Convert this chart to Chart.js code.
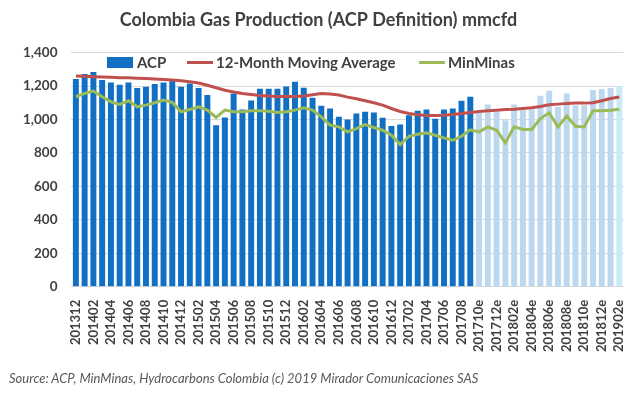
<!DOCTYPE html>
<html>
<head>
<meta charset="utf-8">
<script src="https://cdn.jsdelivr.net/npm/chart.js@4"></script>
<style>
  body { margin: 0; background: #fff; }
  #wrap { position: relative; width: 640px; height: 396px; font-family: Lato, "Noto Sans", sans-serif; }
  .lg { position: absolute; top: 53px; font-size: 15px; font-weight: bold; color: #404040; white-space: nowrap; }
  .sw { position: absolute; }
  #src { position: absolute; left: 9px; top: 370px; font-size: 13px; font-style: italic; color: #595959; }
</style>
</head>
<body>
<div id="wrap">
  <canvas id="myChart" width="640" height="396"></canvas>
  <div class="sw" style="left:107px;top:57px;width:26px;height:11px;background:#1170c4"></div>
  <div class="lg" style="left:137px">ACP</div>
  <div class="sw" style="left:187px;top:61px;width:26px;height:3px;background:#c0504d"></div>
  <div class="lg" style="left:216px">12-Month Moving Average</div>
  <div class="sw" style="left:419px;top:61px;width:26px;height:3px;background:#9bbb59"></div>
  <div class="lg" style="left:448px">MinMinas</div>
  <div id="src">Source: ACP, MinMinas, Hydrocarbons Colombia (c) 2019 Mirador Comunicaciones SAS</div>
</div>
<script>
// Meses (las "e" son estimados)
const meses = [
  '201312','201401','201402','201403','201404','201405','201406','201407','201408','201409','201410','201411',
  '201412','201501','201502','201503','201504','201505','201506','201507','201508','201509','201510','201511',
  '201512','201601','201602','201603','201604','201605','201606','201607','201608','201609','201610','201611',
  '201612','201701','201702','201703','201704','201705','201706','201707','201708','201709',
  '201710e','201711e','201712e','201801e','201802e','201803e','201804e','201805e','201806e','201807e',
  '201808e','201809e','201810e','201811e','201812e','201901e','201902e'
];
const acp = [
  1242, 1272, 1284, 1236, 1222, 1208, 1222, 1188, 1196, 1212, 1222, 1242,
  1196, 1216, 1188, 1146, 966, 1012, 1156, 1060, 1114, 1184, 1184, 1184,
  1198, 1226, 1190, 1130, 1082, 1066, 1016, 1000, 1036, 1046, 1042, 1010,
  962, 970, 1026, 1052, 1060, 1004, 1060, 1066, 1112, 1136,
  1040, 1090, 1046, 996, 1090, 1056, 1060, 1142, 1172, 1076,
  1156, 1086, 1086, 1176, 1182, 1188, 1200
];
const promedio12 = [
  1260, 1258, 1256, 1254, 1252, 1250, 1249, 1247, 1245, 1242, 1239, 1236,
  1232, 1226, 1218, 1205, 1190, 1175, 1165, 1156, 1150, 1144, 1140, 1138,
  1137, 1137, 1140, 1148, 1156, 1152, 1146, 1134, 1124, 1112, 1100, 1086,
  1066, 1048, 1036, 1028, 1024, 1024, 1026, 1030, 1036, 1042,
  1048, 1052, 1056, 1060, 1062, 1066, 1070, 1078, 1088, 1092,
  1096, 1098, 1098, 1100, 1112, 1126, 1134
];
const minminas = [
  1136, 1156, 1170, 1136, 1106, 1090, 1112, 1076, 1086, 1100, 1116, 1102,
  1046, 1060, 1076, 1056, 1012, 1056, 1046, 1046, 1052, 1052, 1050, 1042,
  1046, 1056, 1070, 1056, 1016, 966, 956, 926, 946, 970, 952, 936,
  906, 850, 900, 912, 920, 906, 890, 876, 900, 938,
  926, 956, 936, 860, 956, 940, 940, 1006, 1040, 956,
  1020, 960, 956, 1052, 1052, 1056, 1062
];
const ticksY = [0, 200, 400, 600, 800, 1000, 1200, 1400];

const azul = '#1170c4';
const azulClaro = '#bdd7ee';
const ultimo = '#c9ebf8';
const coloresBarras = meses.map((m, i) =>
  i === meses.length - 1 ? ultimo : (m.endsWith('e') ? azulClaro : azul));

const fuente = 'Lato, "Noto Sans", sans-serif';

new Chart(document.getElementById('myChart'), {
  data: {
    labels: meses,
    datasets: [
      {
        type: 'line',
        label: '12-Month Moving Average',
        data: promedio12,
        borderColor: '#c0504d',
        borderWidth: 3,
        pointRadius: 0,
        tension: 0,
        order: 1
      },
      {
        type: 'line',
        label: 'MinMinas',
        data: minminas,
        borderColor: '#9bbb59',
        borderWidth: 3,
        pointRadius: 0,
        tension: 0,
        order: 0
      },
      {
        type: 'bar',
        label: 'ACP',
        data: acp,
        backgroundColor: coloresBarras,
        barPercentage: 0.68,
        categoryPercentage: 1,
        order: 2
      }
    ]
  },
  options: {
    responsive: false,
    animation: false,
    layout: { padding: { left: 9, right: 12, top: 0, bottom: 39 } },
    plugins: {
      legend: { display: false },
      tooltip: { enabled: false },
      title: {
        display: true,
        text: 'Colombia Gas Production (ACP Definition) mmcfd',
        color: '#404040',
        font: { family: fuente, size: 18, weight: 'bold' },
        padding: { top: 9, bottom: 22 }
      }
    },
    scales: {
      x: {
        grid: { display: false },
        border: { display: true, color: '#d9d9d9' },
        ticks: {
          autoSkip: false,
          maxRotation: 90,
          minRotation: 90,
          padding: 5,
          color: '#404040',
          font: { family: fuente, size: 13, weight: 'bold' },
          callback: function (v, i) { return i % 2 === 0 ? meses[i] : ''; }
        }
      },
      y: {
        min: 0,
        max: 1400,
        afterBuildTicks: axis => { axis.ticks = ticksY.map(v => ({ value: v })); },
        grid: { color: '#d9d9d9', drawTicks: false },
        border: { display: false },
        ticks: {
          padding: 14,
          color: '#404040',
          font: { family: fuente, size: 13.5, weight: 'bold' }
        }
      }
    }
  }
});
</script>
</body>
</html>
